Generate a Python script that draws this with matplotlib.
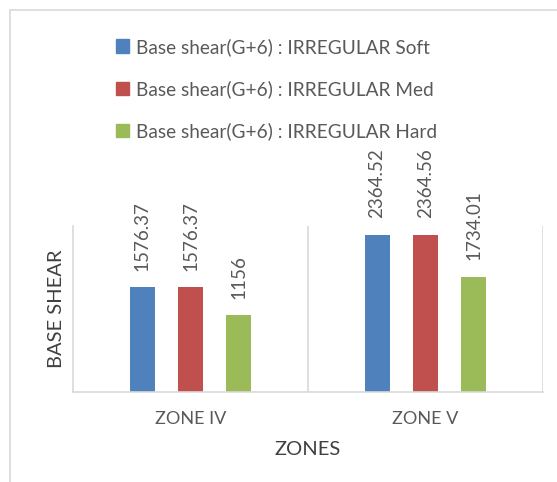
"""Base shear bar chart for irregular G+6 building, by seismic zone."""
import matplotlib.pyplot as plt
from matplotlib.patches import Rectangle, Patch
import numpy as np

zones = ["ZONE IV", "ZONE V"]
series = ["Base shear(G+6) : IRREGULAR Soft",
          "Base shear(G+6) : IRREGULAR Med",
          "Base shear(G+6) : IRREGULAR Hard"]
soft = [1576.37, 2364.52]
med = [1576.37, 2364.56]
hard = [1156, 1734.01]
labels_txt = [["1576.37", "2364.52"], ["1576.37", "2364.56"], ["1156", "1734.01"]]

colors = ["#4F81BD", "#C0504D", "#9BBB59"]
grey = "#595959"
line = "#D9D9D9"

plt.rcParams["font.family"] = ["Lato", "DejaVu Sans"]

fig = plt.figure(figsize=(5.57, 4.82), dpi=100)
# outer chart frame
fig.patches.append(Rectangle((10 / 557, -0.1), 1.2, 1 - 10 / 482 + 0.1,
                             transform=fig.transFigure, fill=False,
                             edgecolor=line, linewidth=1.2))

ax = fig.add_axes([73 / 557, 1 - 392 / 482, 470 / 557, 166 / 482])
x = np.arange(len(zones))
width = 0.106
offs = [-0.206, 0, 0.206]
for vals, txt, off, col, name in zip([soft, med, hard], labels_txt, offs, colors, series):
    bars = ax.bar(x + off, vals, width, color=col, label=name)
    for b, t in zip(bars, txt):
        ax.annotate(t, (b.get_x() + b.get_width() / 2, b.get_height()),
                    xytext=(0, 12), textcoords="offset points",
                    rotation=90, ha="center", va="bottom",
                    fontsize=13.5, color=grey)

ax.set_xlim(-0.5, 1.5)
ax.set_ylim(0, 2500)
ax.set_yticks([])
ax.set_xticks(x)
ax.set_xticklabels(zones, fontsize=13, color=grey)
ax.tick_params(axis="x", length=0, pad=14)
for s in ["top", "right"]:
    ax.spines[s].set_visible(False)
for s in ["left", "bottom"]:
    ax.spines[s].set_color(line)
    ax.spines[s].set_linewidth(1.2)
for xv in [0.5, 1.5]:
    ax.axvline(xv, color=line, linewidth=1.2, zorder=0)

ax.set_ylabel("BASE SHEAR", fontsize=14.5, color="#404040", labelpad=6)
ax.set_xlabel("ZONES", fontsize=14.5, color="#404040", labelpad=10)

handles = [Patch(color=c) for c in colors]
fig.legend(handles, series, loc="upper center", bbox_to_anchor=(0.496, 0.957),
           frameon=False, fontsize=13.7, labelcolor=grey, handlelength=0.7,
           handleheight=0.7, handletextpad=0.35, labelspacing=1.27)

fig.savefig("out.png", dpi=100)
